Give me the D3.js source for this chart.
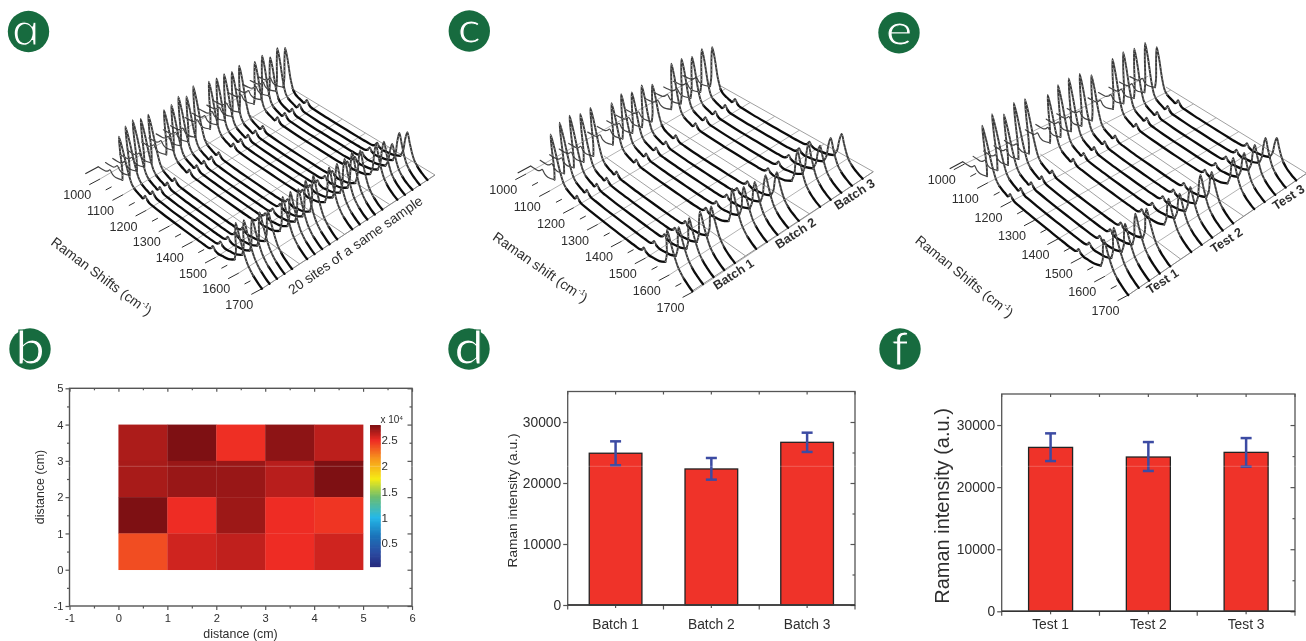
<!DOCTYPE html>
<html><head><meta charset="utf-8">
<script src="https://cdn.jsdelivr.net/npm/d3@7/dist/d3.min.js"></script>
<style>
html,body{margin:0;padding:0;background:#fff;overflow:hidden}
svg{display:block;filter:blur(0.45px)}
text{font-family:"Liberation Sans",Arial,sans-serif;fill:#2e2e2e}
</style></head><body>
<svg id="chart" width="1306" height="641"></svg>
<script>
// ---- spectrum shape
const shifts  = [965,985,1000,1012,1022,1032,1045,1078,1086,1093,1100,1107,1114,1122,1132,1145,1158,1166,1173,1180,1188,1196,1215,1250,1300,1350,1400,1440,1465,1476,1484,1492,1505,1525,1555,1585,1600,1612,1625,1632,1639,1647,1658,1667,1677,1688,1700];
const band1100= [0,0,0,0,0,0,0,.06,.28,.72,1,.78,.36,.14,.07,.04,.02,0,0,0,0,0,0,0,0,0,0,0,0,0,0,0,0,0,0,0,0,0,0,0,0,0,0,0,0,0,0];
const band1625= [0,0,0,0,0,0,0,0,0,0,0,0,0,0,0,0,0,0,0,0,0,0,0,0,0,0,0,0,0,0,0,0,0,.02,.05,.14,.36,.72,1,.72,.46,.28,.17,.11,.07,.03,0];
const floorCounts=[0,300,700,1800,3200,1600,1200,1200,1200,1200,1200,1200,1200,1100,1000,900,800,900,1800,3400,1800,900,700,500,400,400,400,500,800,1800,3400,1900,1300,1300,1500,1600,1600,1600,1600,1500,1400,1300,1100,900,600,300,0];
const shiftTicks = [1000,1100,1200,1300,1400,1500,1600,1700];

// ---- waterfall a
const sitesA = [0,1,2,3,4,6,7,8,9,10,12,13,14,15,16,18,19,20,21,22];
const tallA  = [25000,28000,29000,27500,27500,25500,26000,28000,26000,29000,27000,26500,26500,25500,26500,24000,25000,22000,24500,22500];
const midA   = [25000,24000,22500,23000,21500,23500,23500,22500,24500,24500,23500,23000,23000,24000,22500,20500,19500,16000,19000,17000];
// ---- waterfall c
const sitesC = [0,1,2,3,4,6,7,8,9,10,12,13,14,15,16];
const tallC  = [26000,29000,29500,27500,27500,24000,25500,23500,24000,21500,26000,25500,23500,24500,22500];
const midC   = [22500,20500,21500,21500,20500,22500,20000,19000,19000,17000,21000,21000,16500,17000,15500];
// ---- waterfall e
const tallE  = [29000,32000,29000,32000,31000,27500,29500,30000,29500,26000,28500,29000,28000,28000,23000];
const midE   = [19300,21800,20300,21800,20800,18800,17800,17800,20300,18300,18300,17300,17800,17800,14300];

// ---- heat map b (x 10^4), rows listed from top (y 3-4) to bottom (y 0-1)
const heatRows = [[2.67,2.79,2.49,2.75,2.63],[2.68,2.72,2.72,2.64,2.79],[2.79,2.50,2.71,2.50,2.47],[2.39,2.58,2.62,2.50,2.58]];
const heatStops = [0.05,0.3,0.65,1,1.4,1.75,2.15,2.5,2.8];
const heatColors= ["#252a7e","#2b4aa0","#1b75bb","#25b8e8","#6cbd6f","#f6eb14","#f7941d","#ee2c24","#7a0f12"];
const barTicksHeat = [0.5,1,1.5,2,2.5];

// ---- bars d, f
const batchNames = ["Batch 1","Batch 2","Batch 3"];
const batchMean  = [24880,22300,26670];
const batchHigh  = [26830,24100,28250];
const batchLow   = [22900,20550,25090];
const testNames  = ["Test 1","Test 2","Test 3"];
const testMean   = [26400,24850,25600];
const testHigh   = [28660,27260,27900];
const testLow    = [24200,22600,23300];

const svg = d3.select("#chart");

// ---------- badges
const badges=[["a",28.5,31.5,38,1.35,1.12,13],["c",469.3,31,42,1.15,1,12],["e",899,32.7,42,1.2,1,12],["b",30,349,46,1.15,1,14.5],["d",469,349,46,1.15,1,14.5],["f",900,349,47,1,1,15.5]];
badges.forEach(([l,x,y,fs,sx,sy,dy])=>{
  svg.append("circle").attr("cx",x).attr("cy",y).attr("r",20.7).attr("fill","#176b3f");
  const t=svg.append("text").text(l).attr("text-anchor","middle")
    .style("fill","#fff").style("stroke","#176b3f").style("stroke-width",1.1)
    .style("font-family","Lato,'Open Sans',sans-serif").style("font-size",fs+"px");
  if(l==="a"){ t.style("font-family","'Open Sans'").style("font-style","italic")
    .attr("transform",`translate(${x},${y+dy}) scale(${sx},${sy}) skewX(12)`);}
  else t.attr("transform",`translate(${x},${y+dy}) scale(${sx},${sy})`);
});

// ---------- waterfall
function waterfall(o){
  const g=svg.append("g");
  const uScale=d3.scaleLinear().domain([965,1700]).range([0,1]);
  const vScale=d3.scaleLinear().domain([0,o.vMax]).range([0,1]);
  const hScale=d3.scaleLinear().domain([0,30000]).range([0,60]);
  const tickX=d3.scaleLinear().domain([1000,1700]).range([o.T0[0],o.T1[0]]);
  const tickY=d3.scaleLinear().domain([1000,1700]).range([o.T0[1],o.T1[1]]);
  const P=(s,site,h=0)=>{
    const u=uScale(s),v=vScale(site);
    const fx=o.A[0]+(o.B[0]-o.A[0])*u, fy=o.A[1]+(o.B[1]-o.A[1])*u;
    const bx=o.D[0]+(o.C[0]-o.D[0])*u, by=o.D[1]+(o.C[1]-o.D[1])*u;
    const lean=.18+(.07-.18)*v;
    return [fx+(bx-fx)*v-lean*hScale(h), fy+(by-fy)*v-hScale(h)];
  };
  const seg=(p,q,c,w)=>g.append("line").attr("x1",p[0]).attr("y1",p[1]).attr("x2",q[0]).attr("y2",q[1]).attr("stroke",c).attr("stroke-width",w);
  // floor grid
  shiftTicks.forEach(s=>seg([tickX(s),tickY(s)],P(s,o.vMax),"#b2b2b2",1));
  o.gaps.concat([o.vMax]).forEach(p=>seg(P(1078,p),P(1700,p),"#a0a0a0",1));
  seg(P(1700,0),P(1700,o.vMax),"#8a8a8a",1);
  // shift axis ticks
  const tv=[-10.7,5.7];
  d3.range(1000,1701,50).forEach(s=>{
    const p=[tickX(s),tickY(s)], major=s%100===0, k=major?1:.55;
    seg(p,[p[0]+tv[0]*k,p[1]+tv[1]*k],"#2e2e2e",1);
    if(major) g.append("text").text(s).attr("x",p[0]+tv[0]-12).attr("y",p[1]+tv[1]+14.5)
      .attr("text-anchor","middle").style("font-size","12.6px");
  });
  const a0=P(965,0); seg([a0[0]-13,a0[1]+7],[a0[0],a0[1]],"#2e2e2e",1.1);
  // traces, back to front
  const line=d3.line().curve(d3.curveCatmullRom);
  const order=d3.range(o.sites.length).reverse();
  order.forEach(i=>{
    const pts=shifts.map((s,j)=>({s,h:o.tall[i]*band1100[j]+o.mid[i]*band1625[j]+floorCounts[j]}));
    const runs=[];let cur=null;
    for(let j=1;j<pts.length;j++){
      const slope=Math.abs(pts[j].h-pts[j-1].h)/(pts[j].s-pts[j-1].s);
      const kind=pts[j].s<=1078?"start":(slope>170?"steep":"flat");
      if(!cur||cur.kind!==kind){cur={kind,p:[pts[j-1]]};runs.push(cur);}
      cur.p.push(pts[j]);
    }
    runs.filter(r=>r.kind==="flat").forEach(r=>{
      g.append("path").attr("d",line(r.p.map(q=>P(q.s,o.sites[i],q.h)))).attr("fill","none").attr("stroke","#0c0c0c").attr("stroke-width",2.3).attr("stroke-linecap","round");
    });
    runs.filter(r=>r.kind==="start").forEach(r=>{
      g.append("path").attr("d",line(r.p.map(q=>P(q.s,o.sites[i],q.h)))).attr("fill","none").attr("stroke","#444").attr("stroke-width",1.2).attr("stroke-linecap","round");
    });
    runs.filter(r=>r.kind==="steep").forEach(r=>{
      const d=line(r.p.map(q=>P(q.s,o.sites[i],q.h)));
      g.append("path").attr("d",d).attr("fill","none").attr("stroke","#3a3a3a").attr("stroke-width",1.9).attr("stroke-linecap","round");
      g.append("path").attr("d",d).attr("fill","none").attr("stroke","#e8e8e8").attr("stroke-width",.6).attr("stroke-dasharray","1 3");
    });
  });
  // titles
  const rot=(t,x,y,a,fs,w)=>{const e=g.append("text").attr("transform",`translate(${x},${y}) rotate(${a})`).attr("text-anchor","middle").attr("dominant-baseline","middle").style("font-size",fs+"px").style("font-weight",w||400);return e;};
  const tt=rot("",o.title[0],o.title[1],o.title[2],13.8);
  tt.append("tspan").text(o.titleText+" (cm");
  tt.append("tspan").text("-1").attr("dy",-4).style("font-size","8px");
  tt.append("tspan").text(")").attr("dy",4);
  o.labels.forEach(l=>rot("",l[1],l[2],l[3],l[4],l[5]).text(l[0]));
}
waterfall({A:[98.3,166.7],B:[262,288.7],C:[435,175],D:[264.7,72.3],T0:[100,179],T1:[262,288.7],vMax:23,sites:sitesA,tall:tallA,mid:midA,gaps:[5,11,17],
  title:[101,277,36.6],titleText:"Raman Shifts",labels:[["20 sites of a same sample",356,246,-35,13.8,400]]});
waterfall({A:[530.7,166],B:[692.3,291],C:[873.3,171.7],D:[692.3,70],T0:[526,174],T1:[693.3,291.7],vMax:17,sites:sitesC,tall:tallC,mid:midC,gaps:[5,11],
  title:[540,268,35],titleText:"Raman shift",labels:[["Batch 1",734,275,-33,12.6,700],["Batch 2",796,234,-33,12.6,700],["Batch 3",855,195,-33,12.6,700]]});
waterfall({A:[962.7,161.7],B:[1128.3,295],C:[1306.7,173.3],D:[1140.3,71.3],T0:[964.5,164],T1:[1128.3,295],vMax:17,sites:sitesC,tall:tallE,mid:midE,gaps:[5,11],
  title:[964,277,39],titleText:"Raman Shifts",labels:[["Test 1",1163,282,-33,12.6,700],["Test 2",1227,241,-33,12.6,700],["Test 3",1289,198,-33,12.6,700]]});

// ---------- axis styling helper
const frameColor="#555";
function styleAxis(a,fs){a.selectAll("path").attr("stroke","none");a.selectAll("line").attr("stroke",frameColor).attr("stroke-width",1.2);
  a.selectAll("text").style("font-size",fs+"px").attr("fill",null);}

// ---------- heat map
(function(){
  const L=69.5,R=412,T=388.3,B=606;
  const x=d3.scaleLinear().domain([-1,6]).range([L,R]);
  const y=d3.scaleLinear().domain([-1,5]).range([B,T]);
  const color=d3.scaleLinear().domain(heatStops).range(heatColors);
  const g=svg.append("g");
  heatRows.forEach((row,r)=>row.forEach((v,c)=>{
    g.append("rect").attr("x",x(c)).attr("y",y(4-r)).attr("width",x(c+1)-x(c)+.3).attr("height",y(3-r)-y(4-r)+.3).attr("fill",color(v));
  }));
  // axes
  const ax=(gen,tr)=>{const a=g.append("g").attr("transform",tr).call(gen);styleAxis(a,11.2);return a;};
  const xT=d3.range(-1,7),yT=d3.range(-1,6);
  const xM=d3.range(-.5,6,1),yM=d3.range(-.5,5,1);
  ax(d3.axisBottom(x).tickValues(xT).tickFormat(String).tickSize(4).tickPadding(4),`translate(0,${B})`);
  ax(d3.axisBottom(x).tickValues(xM).tickFormat("").tickSize(2.5),`translate(0,${B})`);
  ax(d3.axisLeft(y).tickValues(yT).tickFormat(String).tickSize(4).tickPadding(2),`translate(${L},0)`);
  ax(d3.axisLeft(y).tickValues(yM).tickFormat("").tickSize(2.5),`translate(${L},0)`);
  ax(d3.axisTop(x).tickValues(xT).tickFormat("").tickSize(-3.5),`translate(0,${T})`);
  ax(d3.axisTop(x).tickValues(xM).tickFormat("").tickSize(-2),`translate(0,${T})`);
  ax(d3.axisRight(y).tickValues(yT).tickFormat("").tickSize(-4.5),`translate(${R},0)`);
  ax(d3.axisRight(y).tickValues(yM).tickFormat("").tickSize(-2.5),`translate(${R},0)`);
  g.append("rect").attr("x",L).attr("y",T).attr("width",R-L).attr("height",B-T).attr("fill","none").attr("stroke",frameColor).attr("stroke-width",1.4);
  g.append("text").text("distance (cm)").attr("x",240.5).attr("y",638).attr("text-anchor","middle").style("font-size","12.4px");
  g.append("text").text("distance (cm)").attr("transform","translate(43.5,487) rotate(-90)").attr("text-anchor","middle").style("font-size","12.4px");
  // colour bar
  const cb=d3.scaleLinear().domain([0,2.8]).range([569,425]);
  d3.range(0.05,2.8,0.025).forEach(v=>g.append("rect").attr("x",370).attr("y",cb(v+.025)).attr("width",10.7).attr("height",cb(v)-cb(v+.025)+.7).attr("fill",color(v)));
  barTicksHeat.forEach(v=>g.append("text").text(v).attr("x",381.5).attr("y",cb(v)+4).style("font-size","11.6px"));
  const ex=g.append("text").attr("x",380.5).attr("y",423).style("font-size","10px");
  ex.append("tspan").text("x 10");
  ex.append("tspan").text("4").attr("dy",-3.5).style("font-size","6px");
})();

// ---------- bar panels
function bars(o){
  const g=svg.append("g");
  const x=d3.scaleBand().domain(o.names).range([o.L,o.R]).paddingInner(o.pad).paddingOuter(o.pad/2);
  const y=d3.scaleLinear().domain([0,35000]).range([o.B,o.T]);
  o.names.forEach((n,i)=>{
    g.append("rect").attr("x",x(n)).attr("y",y(o.mean[i])).attr("width",x.bandwidth()).attr("height",o.B-y(o.mean[i]))
      .attr("fill","#ef3329").attr("stroke","#232323").attr("stroke-width",1.3);
  });
  const step=(o.R-o.L)/3;
  const bounds=d3.range(0,4).map(i=>o.L+step*i);
  const major=[0,10000,20000,30000],minor=[5000,15000,25000];
  const ax=(gen,tr)=>{const a=g.append("g").attr("transform",tr).call(gen);styleAxis(a,o.tickFs);return a;};
  ax(d3.axisLeft(y).tickValues(major).tickFormat(d3.format("d")).tickSize(4.5).tickPadding(o.yPad),`translate(${o.L},0)`);
  ax(d3.axisRight(y).tickValues(major).tickFormat("").tickSize(-4.5),`translate(${o.R},0)`);
  ax(d3.axisRight(y).tickValues(minor).tickFormat("").tickSize(-2.5),`translate(${o.R},0)`);
  ax(d3.axisBottom(x).tickSize(o.xSize).tickPadding(o.xPad),`translate(${-0},${o.B})`);
  bounds.forEach(b=>{
    g.append("line").attr("x1",b).attr("x2",b).attr("y1",o.B).attr("y2",o.B+4.5).attr("stroke",frameColor).attr("stroke-width",1.2);
    g.append("line").attr("x1",b).attr("x2",b).attr("y1",o.T).attr("y2",o.T+3).attr("stroke",frameColor).attr("stroke-width",1.2);
  });
  o.names.forEach(n=>g.append("line").attr("x1",x(n)+x.bandwidth()/2).attr("x2",x(n)+x.bandwidth()/2).attr("y1",o.T).attr("y2",o.T+3).attr("stroke",frameColor).attr("stroke-width",1.2));
  g.append("rect").attr("x",o.L).attr("y",o.T).attr("width",o.R-o.L).attr("height",o.B-o.T).attr("fill","none").attr("stroke",frameColor).attr("stroke-width",1.3);
  g.append("line").attr("x1",o.L).attr("x2",o.R).attr("y1",o.B).attr("y2",o.B).attr("stroke","#333").attr("stroke-width",1.4);
  // error bars
  o.names.forEach((n,i)=>{
    const c=x(n)+x.bandwidth()/2;
    const e=(x1,x2,y1,y2)=>g.append("line").attr("x1",x1).attr("x2",x2).attr("y1",y1).attr("y2",y2).attr("stroke","#3c4ba3").attr("stroke-width",2.5);
    e(c,c,y(o.high[i]),y(o.low[i]));
    e(c-o.cap,c+o.cap,y(o.high[i]),y(o.high[i]));
    e(c-o.cap,c+o.cap,y(o.low[i]),y(o.low[i]));
  });
  g.append("text").text("Raman intensity (a.u.)").attr("transform",`translate(${o.labelX},${o.labelY}) rotate(-90)`).attr("text-anchor","middle").style("font-size",o.labelFs+"px");
}
bars({names:batchNames,mean:batchMean,high:batchHigh,low:batchLow,L:567.7,R:855,T:391.5,B:605,pad:.45,cap:5.5,tickFs:13.8,yPad:2,xSize:3,xPad:11,labelX:517,labelY:500.5,labelFs:13.7});
bars({names:testNames,mean:testMean,high:testHigh,low:testLow,L:1001.7,R:1295,T:394,B:611.3,pad:.55,cap:5.5,tickFs:13.8,yPad:2,xSize:3,xPad:5,labelX:949,labelY:506,labelFs:20});

// faint horizontal scan artefact visible across the lower panels
svg.append("line").attr("x1",0).attr("x2",1306).attr("y1",466.3).attr("y2",466.3).attr("stroke","#fff").attr("stroke-opacity",.22).attr("stroke-width",1);
</script>
</body></html>
